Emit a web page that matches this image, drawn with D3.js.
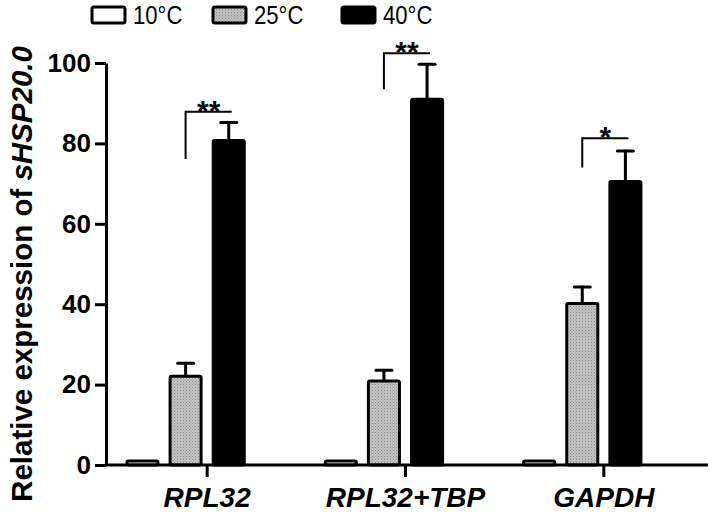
<!DOCTYPE html>
<html>
<head>
<meta charset="utf-8">
<script src="https://cdn.jsdelivr.net/npm/d3@7"></script>
<style>
  html, body { margin: 0; padding: 0; background: #fff; }
  svg { display: block; font-family: "Liberation Sans", Arial, sans-serif; }
</style>
</head>
<body>
<div id="chart"></div>
<script>
// data
const categories = ["RPL32", "RPL32+TBP", "GAPDH"];
const series = ["10°C", "25°C", "40°C"];
const mean10 = [1, 1, 1];
const mean25 = [22.1, 20.9, 40.2];
const mean40 = [80.7, 91.0, 70.5];
const err10 = [0, 0, 0];
const err25 = [3.2, 2.7, 4.1];
const err40 = [4.5, 8.7, 7.6];
const sigLabels = ["**", "**", "*"];
const sigTop = [87.9, 102.4, 81.3];
const sigBottom = [76.1, 93.5, 74.0];
const yTicks = [0, 20, 40, 60, 80, 100];

const width = 714, height = 517;

const svg = d3.select("#chart")
    .append("svg")
    .attr("width", width)
    .attr("height", height);

// stippled grey for the 25°C bars
const defs = svg.append("defs");
const pat = defs.append("pattern")
    .attr("id", "stipple")
    .attr("width", 3)
    .attr("height", 3)
    .attr("patternUnits", "userSpaceOnUse");
pat.append("rect").attr("width", 3).attr("height", 3).attr("fill", "#c4c4c4");
pat.append("rect").attr("x", 0).attr("y", 0).attr("width", 1).attr("height", 1).attr("fill", "#8a8a8a");
pat.append("rect").attr("x", 1.5).attr("y", 1.5).attr("width", 1).attr("height", 1).attr("fill", "#9a9a9a");

const fills = { "10°C": "#fff", "25°C": "url(#stipple)", "40°C": "#000" };

const y = d3.scaleLinear().domain([0, 100]).range([465, 63]);

const x0 = d3.scaleBand()
    .domain(categories)
    .range([108, 703])
    .paddingInner(0.13)
    .paddingOuter(0.065);

// four slots per group, last one empty (as in the original layout)
const x1 = d3.scaleBand()
    .domain(series.concat(["_"]))
    .range([0, x0.bandwidth()])
    .paddingInner(0.28)
    .paddingOuter(0.14);

const rows = [];
categories.forEach((c, i) => {
    rows.push({ cat: c, key: "10°C", v: mean10[i], e: err10[i] });
    rows.push({ cat: c, key: "25°C", v: mean25[i], e: err25[i] });
    rows.push({ cat: c, key: "40°C", v: mean40[i], e: err40[i] });
});

const barX = d => x0(d.cat) + x1(d.key);
const barC = d => barX(d) + x1.bandwidth() / 2;

// error bars (upper only)
const eb = svg.append("g")
    .attr("stroke", "#000")
    .attr("stroke-width", 3)
    .attr("stroke-linecap", "round");
eb.selectAll("line.stem")
    .data(rows.filter(d => d.e > 0))
    .enter()
    .append("line")
    .attr("x1", barC).attr("x2", barC)
    .attr("y1", d => y(d.v)).attr("y2", d => y(d.v + d.e));
eb.selectAll("line.cap")
    .data(rows.filter(d => d.e > 0))
    .enter()
    .append("line")
    .attr("x1", d => barC(d) - 8).attr("x2", d => barC(d) + 8)
    .attr("y1", d => y(d.v + d.e)).attr("y2", d => y(d.v + d.e));

// bars
svg.append("g").selectAll("rect")
    .data(rows)
    .enter()
    .append("rect")
    .attr("x", barX)
    .attr("y", d => y(d.v))
    .attr("width", x1.bandwidth())
    .attr("height", d => y(0) - y(d.v))
    .attr("rx", 1.5)
    .attr("fill", d => fills[d.key])
    .attr("stroke", "#000")
    .attr("stroke-width", 3);

// axes
const yAxis = svg.append("g")
    .attr("transform", "translate(106,0)")
    .call(d3.axisLeft(y).tickValues(yTicks).tickSize(11).tickPadding(4).tickSizeOuter(0));
yAxis.select(".domain").attr("stroke-width", 3);
yAxis.selectAll(".tick line").attr("stroke-width", 3);
yAxis.selectAll(".tick text")
    .attr("font-size", 26)
    .attr("font-weight", "bold")
    .attr("font-family", "Liberation Sans, Arial, sans-serif")
    .attr("fill", "#000");

svg.append("line")
    .attr("x1", 106).attr("x2", 708)
    .attr("y1", y(0)).attr("y2", y(0))
    .attr("stroke", "#000")
    .attr("stroke-width", 3);

svg.append("g").selectAll("line")
    .data(categories)
    .enter()
    .append("line")
    .attr("x1", d => x0(d) + x0.bandwidth() / 2)
    .attr("x2", d => x0(d) + x0.bandwidth() / 2)
    .attr("y1", y(0)).attr("y2", y(0) + 12)
    .attr("stroke", "#000")
    .attr("stroke-width", 3);

svg.append("g").selectAll("text")
    .data(categories)
    .enter()
    .append("text")
    .attr("x", d => x0(d) + x0.bandwidth() / 2)
    .attr("y", 507)
    .attr("text-anchor", "middle")
    .attr("font-size", 28)
    .attr("font-weight", "bold")
    .attr("font-style", "italic")
    .text(d => d);

// y label
const ylab = svg.append("text")
    .attr("transform", "translate(32,274) rotate(-90)")
    .attr("text-anchor", "middle")
    .attr("font-size", 29.5)
    .attr("font-weight", "bold");
ylab.append("tspan").text("Relative expression of ");
ylab.append("tspan").attr("font-style", "italic").text("sHSP20.0");

// significance brackets
const sig = svg.append("g");
categories.forEach((c, i) => {
    const left = x0(c) + x1("25°C") + x1.bandwidth() / 2;
    const right = x0(c) + x1("40°C") + x1.bandwidth() / 2 + 3;
    sig.append("path")
        .attr("d", `M${left},${y(sigBottom[i])}V${y(sigTop[i])}H${right}`)
        .attr("fill", "none")
        .attr("stroke", "#000")
        .attr("stroke-width", 2);
    sig.append("text")
        .attr("x", (left + right) / 2)
        .attr("y", y(sigTop[i]) + 9)
        .attr("text-anchor", "middle")
        .attr("font-size", 30)
        .attr("font-weight", "bold")
        .text(sigLabels[i]);
});

// legend
const legendX = [92, 213, 342];
const leg = svg.append("g");
series.forEach((s, i) => {
    leg.append("rect")
        .attr("x", legendX[i]).attr("y", 7)
        .attr("width", 33).attr("height", 16)
        .attr("rx", 2)
        .attr("fill", fills[s])
        .attr("stroke", "#000")
        .attr("stroke-width", 3);
    // narrow lettering like the original
    leg.append("text")
        .attr("transform", `translate(${legendX[i] + 41},24) scale(0.85,1)`)
        .attr("font-size", 26)
        .text(s);
});
</script>
</body>
</html>
